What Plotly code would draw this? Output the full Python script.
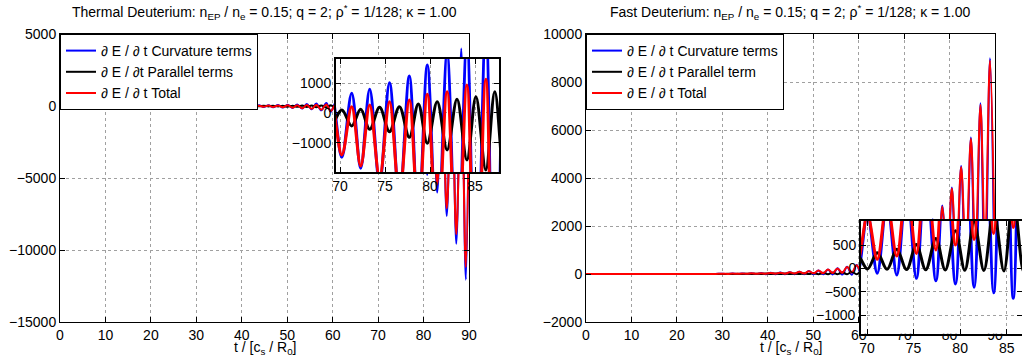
import plotly.graph_objects as go

# ---------------- Data ----------------
# Thermal Deuterium (left panel): extrema times and values
t_th = [0, 10, 20, 28,
        30.0, 31.1, 32.1, 33.2, 34.2, 35.3, 36.3, 37.4, 38.5, 39.5,
        40.6, 41.6, 42.7, 43.8, 44.8, 45.9, 46.9, 48.0, 49.0, 50.1,
        51.2, 52.2, 53.3, 54.3, 55.4, 56.4, 57.5, 58.6, 59.6, 60.7,
        61.7, 62.8, 63.9, 64.9, 66.0, 67.0, 68.1, 69.1, 70.2, 71.3,
        72.3, 73.3, 74.4, 75.5, 76.6, 77.7, 78.7, 79.7, 80.8, 81.9,
        83.0, 84.1, 85.1, 86.2, 87.2, 88.3, 89.3, 90.0]
curv_th = [0, 0, 0, 0,
           -6, 8, -10, 10, -15, 15, -20, 20, -28, 25,
           -38, 35, -50, 45, -65, 55, -85, 70, -110, 90,
           -140, 110, -180, 135, -230, 170, -300, 210, -400, 260,
           -520, 320, -680, 390, -880, 470, -1150, 560, -1492, 663,
           -1862, 798, -2350, 1020, -2950, 1246, -3750, 1616, -4790, 2000,
           -6000, 2500, -7640, 3050, -9570, 4000, -12060, 500]
par_th = [0, 0, 0, 0,
          3, -4, 4, -6, 5, -8, 6, -10, 8, -13,
          10, -17, 12, -22, 14, -28, 17, -35, 20, -44,
          24, -55, 28, -68, 33, -85, 40, -105, 48, -130,
          56, -165, 65, -210, 75, -260, 88, -340, 101, -438,
          124, -550, 191, -629, 213, -818, 303, -1020, 381, -1246,
          460, -1582, 550, -1919, 717, -2450, 850, -900]
tot_th = [0, 0, 0, 0,
          -3, 4, -6, 4, -10, 7, -14, 10, -20, 12,
          -28, 18, -38, 23, -51, 27, -68, 35, -90, 46,
          -116, 55, -152, 67, -197, 85, -260, 105, -352, 130,
          -464, 155, -615, 180, -805, 210, -1062, 220, -1414, 212,
          -1785, 269, -2160, 381, -2740, 438, -3450, 629, -4410, 717,
          -5450, 943, -7100, 1134, -8900, 1550, -11200, -400]

# Fast Deuterium (right panel)
t_fd = [0, 10, 20, 28,
        30.15, 31.2, 32.25, 33.3, 34.35, 35.4, 36.45, 37.5, 38.55, 39.6,
        40.65, 41.7, 42.75, 43.8, 44.85, 45.9, 46.95, 48.0, 49.05, 50.1,
        51.15, 52.2, 53.25, 54.3, 55.35, 56.4, 57.45, 58.5, 59.55, 60.6,
        61.65, 62.7, 63.75, 64.8, 65.85, 66.9, 67.95, 69.0, 70.05, 71.1,
        72.15, 73.2, 74.25, 75.3, 76.3, 77.4, 78.4, 79.5, 80.5, 81.5,
        82.55, 83.6, 84.7, 85.7, 86.8, 87.8, 88.9, 89.9]
curv_fd = [0, 0, 0, 0,
           15, -3, 19, -4, 24, -4, 30, -5, 38, -6,
           48, -6, 60, -7, 75, -8, 95, -9, 120, -11,
           150, -14, 190, -18, 240, -22, 300, -28, 375, -35,
           470, -44, 590, -55, 740, -68, 930, -85, 1160, -107,
           1450, -143, 1820, -214, 2280, -265, 2850, -336, 3600, -407,
           4500, -522, 5690, -643, 7110, -800, 8990, -990]
par_fd = [0, 0, 0, 0,
          0, 8, 0, 10, -1, 12, -1, 14, -2, 16,
          -2, 19, -3, 22, -3, 26, -4, 32, -5, 40,
          -6, 50, -7, 62, -8, 77, -9, 95, -10, 118,
          -11, 145, -12, 180, -13, 220, -14, 270, -15, 334,
          -20, 407, -25, 514, -30, 642, -35, 805, -40, 1000,
          -45, 1250, -55, 1550, -65, 1900, -80, 2300]
tot_fd = [0, 0, 0, 0,
          15, 5, 19, 6, 23, 8, 29, 9, 36, 10,
          46, 13, 57, 15, 72, 18, 91, 23, 115, 29,
          144, 35, 183, 43, 232, 53, 291, 65, 365, 80,
          459, 95, 578, 112, 727, 135, 916, 160, 1145, 193,
          1430, 263, 1795, 321, 2250, 392, 2815, 499, 3560, 621,
          4455, 749, 5635, 878, 7045, 1080, 8900, 1300]

# inset tick values and labels
ticks_in_th = [-1000, 0, 1000]
ticks_in_fd = [-1000, -500, 0, 500]
ticktext_in_fd = ["", "\u2212500", "0", "500"]
low_label_fd = "\u22121000"

names_th = ["\u2202 E / \u2202 t Curvature terms",
            "\u2202 E / \u2202t Parallel terms",
            "\u2202 E / \u2202 t Total"]
names_fd = ["\u2202 E / \u2202 t Curvature terms",
            "\u2202 E / \u2202 t Parallel term",
            "\u2202 E / \u2202 t Total"]
colors = ["#0000ff", "#000000", "#ff0000"]

title_th = ("Thermal Deuterium: n<sub>EP</sub> / n<sub>e</sub> = 0.15; q = 2; "
            "\u03c1<sup>*</sup> = 1/128; \u03ba = 1.00")
title_fd = ("Fast Deuterium: n<sub>EP</sub> / n<sub>e</sub> = 0.15; q = 2; "
            "\u03c1<sup>*</sup> = 1/128; \u03ba = 1.00")
xlabel = "t / [c<sub>s</sub> / R<sub>0</sub>]"

# ---------------- Figure ----------------
W, H = 1022, 364
FONT = "Liberation Sans, Arial, Helvetica, sans-serif"


def xd(a, b):
    return [a / W, min(b / W, 1.0)]


def yd(top, bottom):
    return [(H - bottom) / H, (H - top) / H]


fig = go.Figure()

panels = [
    (t_th, [curv_th, par_th, tot_th], names_th, "x", "y", "x3", "y3", "legend"),
    (t_fd, [curv_fd, par_fd, tot_fd], names_fd, "x2", "y2", "x4", "y4", "legend2"),
]
for t, series, names, xm, ym, xi, yi, lg in panels:
    for vals, name, col in zip(series, names, colors):
        fig.add_trace(go.Scatter(x=t, y=vals, mode="lines", name=name,
                                 line=dict(color=col, width=2, shape="spline"),
                                 xaxis=xm, yaxis=ym, legend=lg, showlegend=True))
for t, series, names, xm, ym, xi, yi, lg in panels:
    for vals, name, col in zip(series, names, colors):
        fig.add_trace(go.Scatter(x=t, y=vals, mode="lines", name=name,
                                 line=dict(color=col, width=3, shape="spline"),
                                 xaxis=xi, yaxis=yi, showlegend=False))

ax = dict(showline=True, linecolor="black", linewidth=1, mirror="ticks",
          ticks="inside", ticklen=5, tickcolor="black", showgrid=True,
          gridcolor="#a0a0a0", griddash="dot", gridwidth=1, zeroline=False,
          tickformat="d",
          tickfont=dict(size=14, color="black", family=FONT))
axi = dict(ax, linewidth=2)

fig.update_layout(
    width=W, height=H, autosize=False,
    margin=dict(l=0, r=0, t=0, b=0, pad=0, autoexpand=False),
    paper_bgcolor="white", plot_bgcolor="white",
    font=dict(family=FONT, size=14, color="black"),
    xaxis=dict(ax, domain=xd(60, 469), range=[0, 90], tick0=0, dtick=10, anchor="y"),
    yaxis=dict(ax, domain=yd(34, 322), range=[-15000, 5000], tick0=0, dtick=5000, anchor="x"),
    xaxis2=dict(ax, domain=xd(586, 995), range=[0, 90], tick0=0, dtick=10, anchor="y2"),
    yaxis2=dict(ax, domain=yd(34, 322), range=[-2000, 10000], tick0=0, dtick=2000, anchor="x2"),
    xaxis3=dict(axi, domain=xd(336, 499), range=[69.556, 87.667], tick0=70, dtick=5, anchor="y3"),
    yaxis3=dict(axi, domain=yd(59, 172), range=[-1990, 1820], tickmode="array",
                tickvals=ticks_in_th, anchor="x3"),
    xaxis4=dict(axi, domain=xd(861, 1022), range=[69.356, 86.64], tick0=70, dtick=5, anchor="y4"),
    yaxis4=dict(axi, domain=yd(221, 333.7), range=[-1400, 1015], tickmode="array",
                tickvals=ticks_in_fd, ticktext=ticktext_in_fd, anchor="x4"),
    legend=dict(x=60 / W, y=1 - 34 / H, xanchor="left", yanchor="top",
                bordercolor="black", borderwidth=1, bgcolor="white",
                font=dict(size=14, family=FONT), tracegroupgap=0, itemwidth=30),
    legend2=dict(x=586 / W, y=1 - 34 / H, xanchor="left", yanchor="top",
                 bordercolor="black", borderwidth=1, bgcolor="white",
                 font=dict(size=14, family=FONT), tracegroupgap=0, itemwidth=30),
    showlegend=True,
)

annos = [
    dict(text=title_th, x=264.5 / W, y=1 - 12 / H),
    dict(text=title_fd, x=790.5 / W, y=1 - 12 / H),
    dict(text=xlabel, x=264.5 / W, y=1 - 348 / H),
    dict(text=xlabel, x=790.5 / W, y=1 - 348 / H),
]
for a in annos:
    fig.add_annotation(xref="paper", yref="paper", showarrow=False,
                       xanchor="center", yanchor="middle",
                       font=dict(size=14, family=FONT, color="black"), **a)

# lowest tick label of the right inset
fig.add_annotation(xref="paper", yref="y4", x=858 / W, y=ticks_in_fd[0],
                   text=low_label_fd, showarrow=False, xanchor="right",
                   yanchor="middle", font=dict(size=14, family=FONT, color="black"))

fig.write_html("out.html",
               config={"displayModeBar": False},
               post_script="document.body.style.margin='0px';"
                           "document.body.style.overflow='hidden';")
